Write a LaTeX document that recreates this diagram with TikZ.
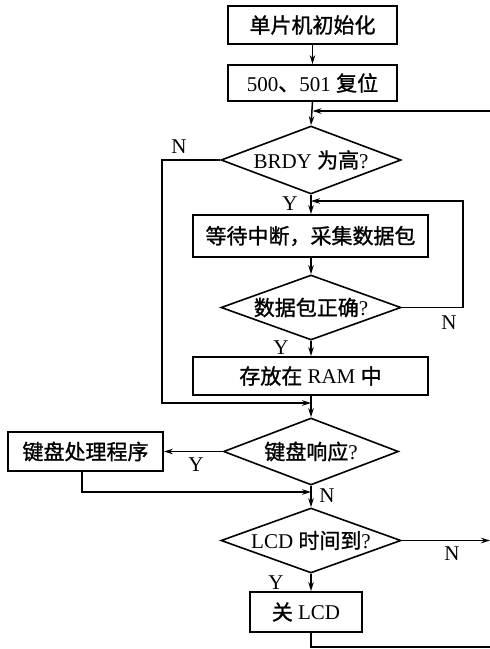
\documentclass[tikz,border=0pt]{standalone}
\usepackage{fontspec}
\setmainfont{Liberation Serif}
\newfontfamily\cjk[FakeBold=1.2]{Noto Sans CJK SC}
\usetikzlibrary{shapes.geometric,arrows.meta}
\begin{document}
\begin{tikzpicture}[x=1pt,y=-1pt,
  font=\fontsize{21}{23}\selectfont,
  every path/.style={line width=1.5pt},
  box/.style={draw,rectangle,inner sep=0pt,line width=1.8pt},
  dia/.style={draw,diamond,inner sep=0pt,line width=1.6pt},
  arr/.style={-{Stealth[length=9pt,width=5.5pt]}},
  lab/.style={inner sep=0pt,font=\fontsize{21}{23}\selectfont}]
\useasboundingbox (0,0) rectangle (490,649);
\node[box,minimum width=169pt,minimum height=38pt] (b1) at (312.5,25) {\cjk 单片机初始化};
\node[box,minimum width=169pt,minimum height=36pt] (b2) at (312.5,83) {500{\cjk 、}501 {\cjk 复位}};
\node[dia,minimum width=180pt,minimum height=68pt] (d1) at (311,160) {\makebox[0pt]{BRDY {\cjk 为高}?}};
\node[box,minimum width=235pt,minimum height=42pt] (b3) at (310.5,236) {\cjk 等待中断，采集数据包};
\node[dia,minimum width=180pt,minimum height=65pt] (d2) at (311,307.5) {\makebox[0pt]{{\cjk 数据包正确}?}};
\node[box,minimum width=235pt,minimum height=38pt] (b4) at (310.5,376) {{\cjk 存放在} RAM {\cjk 中}};
\node[dia,minimum width=175pt,minimum height=67pt] (d3) at (311,451.5) {\makebox[0pt]{{\cjk 键盘响应}?}};
\node[box,minimum width=155pt,minimum height=39pt] (b5) at (85.5,451.5) {\cjk 键盘处理程序};
\node[dia,minimum width=180pt,minimum height=65pt] (d4) at (311,540.5) {\makebox[0pt]{LCD {\cjk 时间到}?}};
\node[box,minimum width=112pt,minimum height=40pt] (b6) at (306,612) {{\cjk 关} LCD};
% free ends / corners
\coordinate (rtop) at (490,111);
\coordinate (nl1) at (162,160);
\coordinate (nl2) at (162,403);
\coordinate (j1) at (311,403);
\coordinate (nr1) at (463,307.5);
\coordinate (nr2) at (463,201);
\coordinate (j2) at (311,201);
\coordinate (c5) at (82,492);
\coordinate (j3) at (311,492);
\coordinate (rmid) at (490,540.5);
\coordinate (bb1) at (311,647);
\coordinate (bb2) at (490,647);
% connectors
\draw[arr] (b1) -- (b2);
\draw[arr] (b2.south) -- (d1.north);
\draw[arr] (rtop) -- (rtop -| b2.south);
\draw[arr] (d1.west) -- (nl1) -- (nl2) -- (j1);
\draw[arr] (d1.south) -- (d1.south |- b3.north);
\draw[arr] (b3.south -| d2.north) -- (d2.north);
\draw[arr] (d2.east) -- (nr1) -- (nr2) -- (j2);
\draw[arr] (d2.south) -- (d2.south |- b4.north);
\draw[arr] (b4.south -| d3.north) -- (d3.north);
\draw[arr] (d3.west) -- (d3.west -| b5.east);
\draw[arr] (b5.south -| c5) -- (c5) -- (j3);
\draw[arr] (d3.south) -- (d4.north);
\draw[arr] (d4.east) -- (rmid);
\draw[arr] (d4.south) -- (d4.south |- b6.north);
\draw (b6.south -| bb1) -- (bb1) -- (bb2);
% labels
\node[lab] (n1) at (179,147) {N};
\node[lab] (y1) at (290,204) {Y};
\node[lab] (n2) at (449,323) {N};
\node[lab] (y2) at (281,348) {Y};
\node[lab] (y3) at (196,465) {Y};
\node[lab] (n3) at (327,496) {N};
\node[lab] (n4) at (452,554) {N};
\node[lab] (y4) at (276,583) {Y};
\end{tikzpicture}
\end{document}
